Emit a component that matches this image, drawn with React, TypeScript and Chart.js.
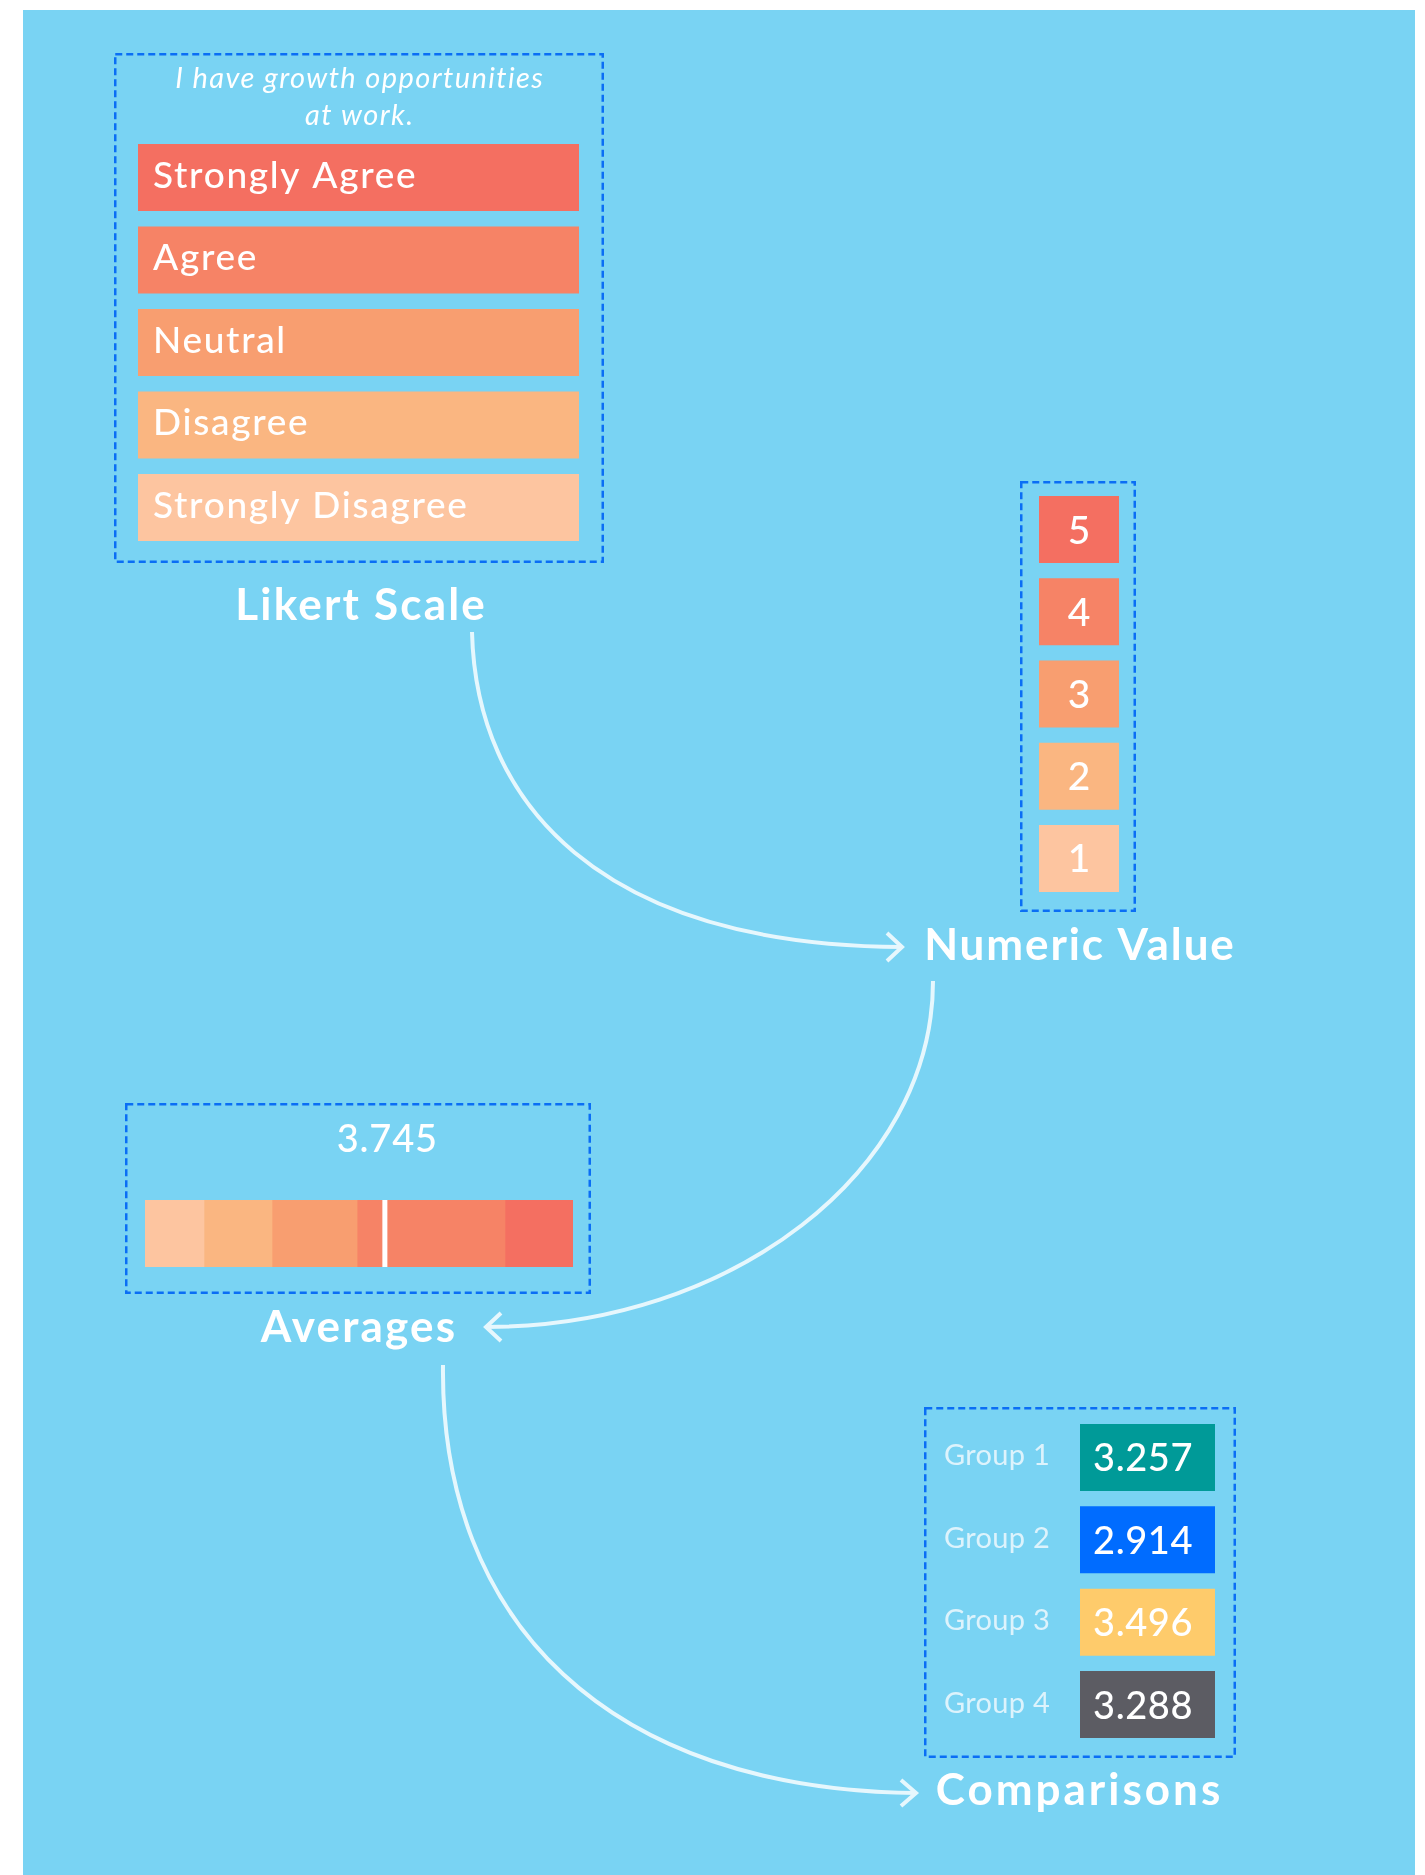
import React, { useEffect, useRef } from "react";
import { Chart, registerables } from "chart.js";

Chart.register(...registerables);

// ---------------- data ----------------
const likertQuestion = ["I have growth opportunities", "at work."];
const likertLabels = ["Strongly Agree", "Agree", "Neutral", "Disagree", "Strongly Disagree"];
const likertColors = ["#F46F61", "#F68366", "#F89E70", "#FAB681", "#FDC5A0"];
const likertBarLength = [100, 100, 100, 100, 100];

const numericLabels = ["5", "4", "3", "2", "1"];
const numericColors = ["#F46F61", "#F68366", "#F89E70", "#FAB681", "#FDC5A0"];
const numericCellLength = [1, 1, 1, 1, 1];

const averageSegmentLabels = ["Strongly Disagree", "Disagree", "Neutral", "Agree", "Strongly Agree"];
const averageSegmentShares = [13.8, 15.9, 19.9, 34.6, 15.9];
const averageSegmentColors = ["#FDC5A0", "#FAB681", "#F89E70", "#F68366", "#F46F61"];
const averageMarkerPosition = 56.1;
const averageScore = 3.745;

const groupLabels = ["Group 1", "Group 2", "Group 3", "Group 4"];
const groupScores = [3.257, 2.914, 3.496, 3.288];
const groupColors = ["#009A98", "#006CFF", "#FECB6B", "#5C5C63"];
const groupCellLength = [1, 1, 1, 1];

const captions = ["Likert Scale", "Numeric Value", "Averages", "Comparisons"];

// ---------------- styles ----------------
const FONT = "Lato, 'Open Sans', sans-serif";
const BG = "#79D3F3";
const DASH = "#0A6EF5";
const ARROW = "#E6F7FD";

function dashedBox(ctx: CanvasRenderingContext2D, x: number, y: number, w: number, h: number) {
  ctx.save();
  ctx.strokeStyle = DASH;
  ctx.lineWidth = 2.5;
  ctx.setLineDash([7, 4]);
  ctx.strokeRect(x, y, w, h);
  ctx.restore();
}

function drawText(
  ctx: CanvasRenderingContext2D,
  text: string,
  x: number,
  y: number,
  font: string,
  color: string,
  align: CanvasTextAlign = "center",
  spacing = 0
) {
  ctx.save();
  ctx.font = font;
  ctx.fillStyle = color;
  ctx.textAlign = align;
  ctx.textBaseline = "alphabetic";
  (ctx as any).letterSpacing = spacing + "px";
  const shift = align === "center" ? spacing / 2 : 0;
  ctx.fillText(text, x + shift, y);
  ctx.restore();
}

function baseOptions(padding: any) {
  return {
    responsive: false,
    maintainAspectRatio: false,
    animation: false as const,
    devicePixelRatio: 1,
    events: [] as any[],
    layout: { padding },
    plugins: {
      legend: { display: false },
      tooltip: { enabled: false },
      title: { display: false },
    },
  };
}

function ChartCanvas(props: { left: number; top: number; width: number; height: number; config: () => any }) {
  const ref = useRef<HTMLCanvasElement | null>(null);
  useEffect(() => {
    if (!ref.current) return;
    const chart = new Chart(ref.current, props.config());
    return () => chart.destroy();
  }, []);
  return (
    <canvas
      ref={ref}
      width={props.width}
      height={props.height}
      style={{
        position: "absolute",
        left: props.left,
        top: props.top,
        width: props.width,
        height: props.height,
      }}
    />
  );
}

// ---------------- chart configs ----------------
const likertConfig = () => ({
  type: "bar",
  data: {
    labels: likertLabels,
    datasets: [
      {
        data: likertBarLength,
        backgroundColor: likertColors,
        borderWidth: 0,
        barPercentage: 0.812,
        categoryPercentage: 1,
      },
    ],
  },
  options: {
    ...baseOptions({ left: 24, right: 25, top: 83.25, bottom: 94.25 }),
    indexAxis: "y",
    scales: {
      x: { display: false, min: 0, max: 100 },
      y: { display: false },
    },
  },
  plugins: [
    {
      id: "likertDecor",
      afterDatasetsDraw(chart: any) {
        const ctx = chart.ctx as CanvasRenderingContext2D;
        dashedBox(ctx, 1.25, 1.25, 487.5, 507.5);
        drawText(ctx, likertQuestion[0], 245, 35, `italic 400 29px ${FONT}`, "#FFFFFF", "center", 1.4);
        drawText(ctx, likertQuestion[1], 245, 72, `italic 400 29px ${FONT}`, "#FFFFFF", "center", 1.4);
        const meta = chart.getDatasetMeta(0);
        meta.data.forEach((el: any, i: number) => {
          drawText(ctx, likertLabels[i], el.base + 15, el.y + 10, `500 37px ${FONT}`, "#FFFFFF", "left", 1.7);
        });
        drawText(ctx, captions[0], 246, 567, `700 44px ${FONT}`, "#FFFFFF", "center", 2.2);
      },
    },
  ],
});

const numericConfig = () => ({
  type: "bar",
  data: {
    labels: numericLabels,
    datasets: [
      {
        data: numericCellLength,
        backgroundColor: numericColors,
        borderWidth: 0,
        barPercentage: 0.815,
        categoryPercentage: 1,
      },
    ],
  },
  options: {
    ...baseOptions({ left: 125, right: 125, top: 7.4, bottom: 71.4 }),
    indexAxis: "y",
    scales: {
      x: { display: false, min: 0, max: 1 },
      y: { display: false },
    },
  },
  plugins: [
    {
      id: "numericDecor",
      afterDatasetsDraw(chart: any) {
        const ctx = chart.ctx as CanvasRenderingContext2D;
        dashedBox(ctx, 107.25, 1.25, 113.5, 428.5);
        const meta = chart.getDatasetMeta(0);
        meta.data.forEach((el: any, i: number) => {
          drawText(ctx, numericLabels[i], (el.base + el.x) / 2, el.y + 14, `500 39px ${FONT}`, "#FFFFFF");
        });
        drawText(ctx, captions[1], 165, 479, `700 44px ${FONT}`, "#FFFFFF", "center", 1.9);
      },
    },
  ],
});

const averageTotal = averageSegmentShares.reduce((a, b) => a + b, 0);

const averagesConfig = () => ({
  type: "bar",
  data: {
    labels: [""],
    datasets: averageSegmentShares.map((v, i) => ({
      label: averageSegmentLabels[i],
      data: [v],
      backgroundColor: averageSegmentColors[i],
      borderWidth: 0,
      barPercentage: 1,
      categoryPercentage: 1,
    })),
  },
  options: {
    ...baseOptions({ left: 20, right: 18, top: 97, bottom: 93 }),
    indexAxis: "y",
    scales: {
      x: { display: false, stacked: true, min: 0, max: averageTotal },
      y: { display: false, stacked: true },
    },
  },
  plugins: [
    {
      id: "averagesDecor",
      afterDatasetsDraw(chart: any) {
        const ctx = chart.ctx as CanvasRenderingContext2D;
        dashedBox(ctx, 1.25, 1.25, 463.5, 188.5);
        const area = chart.chartArea;
        const mx = chart.scales.x.getPixelForValue(averageMarkerPosition);
        ctx.save();
        ctx.fillStyle = "#FFFFFF";
        ctx.fillRect(mx - 2.5, area.top, 5, area.bottom - area.top);
        ctx.restore();
        drawText(ctx, averageScore.toFixed(3), mx + 2, 49, `500 38px ${FONT}`, "#FFFFFF", "center", 0.8);
        drawText(ctx, captions[2], 233, 239, `700 44px ${FONT}`, "#FFFFFF", "center", 2.2);
      },
    },
  ],
});

const comparisonsConfig = () => ({
  type: "bar",
  data: {
    labels: groupLabels,
    datasets: [
      {
        data: groupCellLength,
        backgroundColor: groupColors,
        borderWidth: 0,
        barPercentage: 0.814,
        categoryPercentage: 1,
      },
    ],
  },
  options: {
    ...baseOptions({ left: 166, right: 29, top: 9.3, bottom: 71.3 }),
    indexAxis: "y",
    scales: {
      x: { display: false, min: 0, max: 1 },
      y: { display: false },
    },
  },
  plugins: [
    {
      id: "comparisonsDecor",
      afterDatasetsDraw(chart: any) {
        const ctx = chart.ctx as CanvasRenderingContext2D;
        dashedBox(ctx, 11.25, 1.25, 309.5, 348.5);
        const meta = chart.getDatasetMeta(0);
        meta.data.forEach((el: any, i: number) => {
          drawText(ctx, groupLabels[i], 30, el.y + 8, `400 29px ${FONT}`, "#DDF3FC", "left", 0.3);
          drawText(ctx, groupScores[i].toFixed(3), el.base + 13, el.y + 14, `500 38px ${FONT}`, "#FFFFFF", "left", 0.6);
        });
        drawText(ctx, captions[3], 164, 398, `700 44px ${FONT}`, "#FFFFFF", "center", 3);
      },
    },
  ],
});

// ---------------- connectors (layout only) ----------------
const connectorPaths = [
  "M472 632 C476 802 598 945 902 947",
  "M933 981 C933 1171 732 1327 486 1327",
  "M443 1365 C440 1622 609 1790 916 1793",
];
const arrowHeads = [
  "M887 933 L902 947 L887 961",
  "M501 1313 L486 1327 L501 1341",
  "M901 1780 L916 1793 L901 1806",
];

export default function App() {
  return (
    <div style={{ position: "absolute", left: 0, top: 0, width: 1425, height: 1875, overflow: "hidden" }}>
      <div style={{ position: "absolute", left: 23, top: 10, width: 1392, height: 1865, background: BG }} />
      <svg
        width={1425}
        height={1875}
        style={{ position: "absolute", left: 0, top: 0 }}
      >
        {connectorPaths.map((d, i) => (
          <path key={"c" + i} d={d} fill="none" stroke={ARROW} strokeWidth={4} />
        ))}
        {arrowHeads.map((d, i) => (
          <path key={"h" + i} d={d} fill="none" stroke={ARROW} strokeWidth={4} strokeLinejoin="miter" />
        ))}
      </svg>
      <ChartCanvas left={114} top={53} width={490} height={590} config={likertConfig} />
      <ChartCanvas left={914} top={481} width={330} height={490} config={numericConfig} />
      <ChartCanvas left={125} top={1103} width={466} height={257} config={averagesConfig} />
      <ChartCanvas left={914} top={1407} width={330} height={410} config={comparisonsConfig} />
    </div>
  );
}
